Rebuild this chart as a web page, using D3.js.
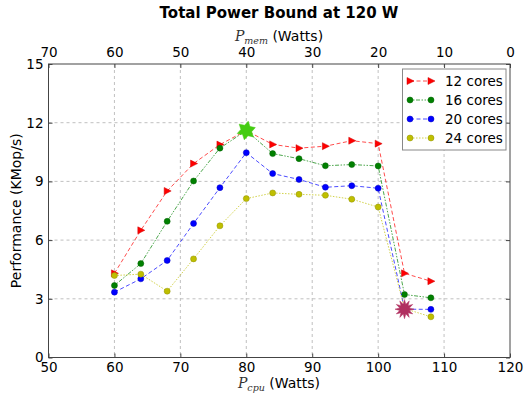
<!DOCTYPE html>
<html><head><meta charset="utf-8">
<script src="https://cdn.jsdelivr.net/npm/d3@7"></script>
<style>body{margin:0;background:#fff}svg{display:block}text{font-family:"DejaVu Sans",sans-serif;fill:#000}</style>
</head><body>
<svg id="c" width="525" height="395"></svg>
<script>
const pcpu = [60,64,68,72,76,80,84,88,92,96,100,104,108];
const cores12 = [4.30,6.50,8.51,9.91,10.88,11.60,10.89,10.70,10.80,11.08,10.93,4.30,3.90];
const cores16 = [3.68,4.80,6.96,9.02,10.70,11.60,10.42,10.16,9.80,9.86,9.79,3.22,3.05];
const cores20 = [3.34,4.02,4.96,6.85,8.68,10.47,9.40,9.10,8.70,8.78,8.65,2.47,2.46];
const cores24 = [4.19,4.26,3.39,5.04,6.73,8.12,8.41,8.34,8.29,8.09,7.69,2.50,2.08];
const seriesNames = ["12 cores","16 cores","20 cores","24 cores"];
const xTicks = [50,60,70,80,90,100,110,120];
const memTicks = [70,60,50,40,30,20,10,0];
const yTicks = [0,3,6,9,12,15];
const maxPoint = {x:80, y:11.6};
const minPoint = {x:104, y:2.47};

const svg = d3.select("#c");
const L=48.5, R=510, T=64, B=357.5;
const x = d3.scaleLinear().domain([50,120]).range([L,R]);
const xm = d3.scaleLinear().domain([70,0]).range([L,R]);
const y = d3.scaleLinear().domain([0,15]).range([B,T]);

// grid
const g = svg.append("g");
g.selectAll(".gx").data(xTicks.slice(1,-1)).join("line")
 .attr("x1",d=>x(d)).attr("x2",d=>x(d)).attr("y1",T).attr("y2",B)
 .attr("stroke","#b0b0b0").attr("stroke-width",0.8).attr("stroke-dasharray","3,3");
g.selectAll(".gy").data(yTicks.slice(1,-1)).join("line")
 .attr("y1",d=>y(d)).attr("y2",d=>y(d)).attr("x1",L).attr("x2",R)
 .attr("stroke","#b0b0b0").attr("stroke-width",0.8).attr("stroke-dasharray","3,3");

// axes
function styleAxis(sel){
  sel.select(".domain").remove();
  sel.selectAll(".tick line").attr("stroke","#444");
  sel.selectAll(".tick text").attr("font-size","13.5px").attr("font-family","DejaVu Sans").attr("fill","#000");
}
svg.append("g").attr("transform",`translate(0,${B})`)
 .call(d3.axisBottom(x).tickValues(xTicks).tickSize(-4).tickPadding(5).tickFormat(d3.format("d"))).call(styleAxis);
svg.append("g").attr("transform",`translate(0,${T})`)
 .call(d3.axisTop(xm).tickValues(memTicks).tickSize(-4).tickPadding(7).tickFormat(d3.format("d"))).call(styleAxis);
svg.append("g").attr("transform",`translate(${L},0)`)
 .call(d3.axisLeft(y).tickValues(yTicks).tickSize(-4).tickPadding(5).tickFormat(d3.format("d"))).call(styleAxis);
svg.append("g").attr("transform",`translate(${R},0)`)
 .call(d3.axisRight(y).tickValues(yTicks).tickSize(-4).tickFormat("")).call(styleAxis);

svg.append("rect").attr("x",L).attr("y",T).attr("width",R-L).attr("height",B-T)
 .attr("fill","none").attr("stroke","#444").attr("stroke-width",1);

// series
const series = [
 {name:seriesNames[0], vals:cores12, color:"#ff0000", dash:"4,2.5", marker:"tri"},
 {name:seriesNames[1], vals:cores16, color:"#008000", dash:"1.5,1.5,1.5,1.5,4,1.5", marker:"circ"},
 {name:seriesNames[2], vals:cores20, color:"#0000ff", dash:"4,2.5", marker:"circ"},
 {name:seriesNames[3], vals:cores24, color:"#bfbf00", dash:"1.5,1.5", marker:"circ"}
];
const line = d3.line().x(d=>x(d[0])).y(d=>y(d[1]));
const triPath = "M4,0L-3,-3.5L-3,3.5Z";
function drawMarker(sel, s){
  if(s.marker==="tri"){
    sel.append("path").attr("d",triPath).attr("fill",s.color).attr("stroke",d3.color(s.color).darker(0.6)).attr("stroke-width",0.5);
  } else {
    sel.append("circle").attr("r",3).attr("fill",s.color).attr("stroke",d3.color(s.color).darker(0.8)).attr("stroke-width",0.5);
  }
}
series.forEach(s=>{
  const pts = pcpu.map((p,i)=>[p,s.vals[i]]);
  svg.append("path").attr("d",line(pts)).attr("fill","none").attr("stroke",s.color)
   .attr("stroke-opacity",0.7).attr("stroke-width",1).attr("stroke-dasharray",s.dash);
  pts.forEach(p=>{
    const m = svg.append("g").attr("transform",`translate(${x(p[0])},${y(p[1])})`);
    drawMarker(m,s);
  });
});

// highlight stars
function starPath(n, ro, ri){
  const pts=[];
  for(let i=0;i<2*n;i++){
    const a = Math.PI*i/n - Math.PI/2;
    const r = i%2===0?ro:ri;
    pts.push([r*Math.cos(a), r*Math.sin(a)]);
  }
  return "M"+pts.map(p=>p.join(",")).join("L")+"Z";
}
svg.append("path").attr("d",starPath(6,9.5,5.5))
 .attr("transform",`translate(${x(maxPoint.x)},${y(maxPoint.y)}) rotate(12)`)
 .attr("fill","#44cc11").attr("stroke","#44cc11").attr("stroke-width",0.5);
svg.append("path").attr("d",starPath(12,9.5,5))
 .attr("transform",`translate(${x(minPoint.x)},${y(minPoint.y)})`)
 .attr("fill","#b03060").attr("stroke","#b03060").attr("stroke-width",0.5);

// legend
const lg = svg.append("g");
lg.append("rect").attr("x",402.5).attr("y",69).attr("width",103.5).attr("height",81)
 .attr("fill","#fff").attr("stroke","#888").attr("stroke-width",1);
series.forEach((s,i)=>{
  const ly = 81 + i*19;
  lg.append("line").attr("x1",410).attr("x2",431).attr("y1",ly).attr("y2",ly)
   .attr("stroke",s.color).attr("stroke-opacity",0.7).attr("stroke-width",1).attr("stroke-dasharray",s.dash);
  [410,431].forEach(mx=>{ const m=lg.append("g").attr("transform",`translate(${mx},${ly})`); drawMarker(m,s); });
  lg.append("text").attr("x",445).attr("y",ly).attr("dy","0.36em").attr("font-size","13.5px").text(s.name);
});

// titles
svg.append("text").attr("x",279).attr("y",18).attr("text-anchor","middle")
 .attr("font-size","15px").attr("font-weight","bold").text("Total Power Bound at 120 W");
function mathLabel(cx, cy, sub){
  const t = svg.append("text").attr("x",cx).attr("y",cy).attr("text-anchor","middle").attr("font-size","14px");
  t.append("tspan").attr("font-family","DejaVu Serif").attr("font-style","italic").attr("fill","#333").text("P");
  t.append("tspan").attr("font-family","DejaVu Serif").attr("font-style","italic").attr("font-size","9.5px").attr("fill","#333").attr("dy","3").text(sub);
  t.append("tspan").attr("dy","-3").text(" (Watts)");
}
mathLabel(279, 41, "mem");
mathLabel(279, 388, "cpu");
svg.append("text").attr("transform",`translate(21,${(T+B)/2}) rotate(-90)`).attr("text-anchor","middle")
 .attr("font-size","14px").text("Performance (KMop/s)");
</script>
</body></html>
